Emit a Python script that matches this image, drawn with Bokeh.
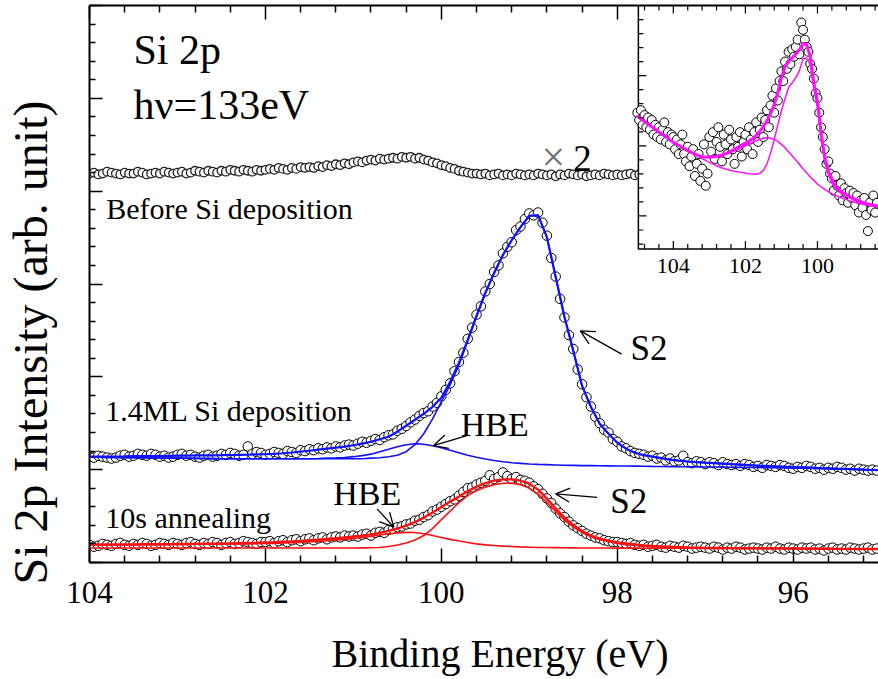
import numpy as np
from bokeh.plotting import figure
from bokeh.layouts import row, column
from bokeh.models import Range1d, LinearAxis, FixedTicker, Arrow, OpenHead, Label
from bokeh.core.properties import value
from bokeh.embed import file_html
from bokeh.resources import INLINE

FONT = "Liberation Serif"

# ---------------------------------------------------------------- data
# main panel: binding energy (eV) grids start at 104 and go down
FIT_STEP = 0.1      # fitted curves
DATA_STEP = 0.05    # measured points

before_data = [
    4.19, 4.20, 4.18, 4.19, 4.21, 4.20, 4.19, 4.18, 4.20, 4.19, 4.19, 4.21, 4.20, 4.18, 4.19, 4.20, 4.19, 4.21, 4.20, 4.19,
    4.20, 4.21, 4.19, 4.20, 4.22, 4.21, 4.20, 4.22, 4.21, 4.20, 4.22, 4.21, 4.23, 4.22, 4.21, 4.23, 4.22, 4.21, 4.23, 4.22,
    4.23, 4.24, 4.23, 4.25, 4.24, 4.23, 4.25, 4.24, 4.26, 4.25, 4.26, 4.25, 4.27, 4.26, 4.28, 4.27, 4.29, 4.28, 4.30, 4.29,
    4.31, 4.32, 4.31, 4.33, 4.34, 4.33, 4.35, 4.34, 4.35, 4.36, 4.35, 4.37, 4.36, 4.37, 4.35, 4.36, 4.34, 4.33, 4.31, 4.30,
    4.28, 4.27, 4.25, 4.24, 4.22, 4.21, 4.20, 4.19, 4.19, 4.18, 4.19, 4.17, 4.18, 4.19, 4.17, 4.18, 4.17, 4.19, 4.18, 4.17,
    4.18, 4.17, 4.19, 4.18, 4.17, 4.18, 4.16, 4.18, 4.17, 4.19, 4.18, 4.17, 4.18, 4.16, 4.17, 4.18, 4.17, 4.19, 4.18, 4.17,
    4.18, 4.17, 4.18, 4.19, 4.17, 4.18, 4.17, 4.18,
]

dep_data = [
    1.14, 1.13, 1.15, 1.14, 1.13, 1.12, 1.13, 1.15, 1.16, 1.14, 1.15, 1.17, 1.16, 1.15, 1.17, 1.16, 1.14, 1.15, 1.13, 1.14,
    1.16, 1.17, 1.15, 1.16, 1.14, 1.13, 1.15, 1.16, 1.14, 1.15, 1.17, 1.16, 1.18, 1.17, 1.15, 1.16, 1.25, 1.17, 1.19, 1.18,
    1.16, 1.17, 1.19, 1.18, 1.17, 1.20, 1.19, 1.18, 1.21, 1.20, 1.22, 1.21, 1.23, 1.22, 1.24, 1.23, 1.25, 1.24, 1.26, 1.27,
    1.26, 1.28, 1.30, 1.29, 1.31, 1.33, 1.32, 1.35, 1.37, 1.38, 1.42, 1.44, 1.47, 1.51, 1.54, 1.58, 1.61, 1.63, 1.68, 1.72,
    1.79, 1.86, 1.93, 2.06, 2.16, 2.26, 2.41, 2.53, 2.67, 2.76, 2.92, 3.00, 3.13, 3.20, 3.33, 3.40, 3.45, 3.58, 3.62, 3.70,
    3.76, 3.74, 3.77, 3.66, 3.52, 3.28, 3.08, 2.84, 2.64, 2.45, 2.30, 2.08, 1.92, 1.78, 1.68, 1.57, 1.50, 1.43, 1.40, 1.33,
    1.30, 1.25, 1.23, 1.20, 1.18, 1.17, 1.16, 1.14, 1.15, 1.12, 1.13, 1.10, 1.12, 1.09, 1.10, 1.15, 1.08, 1.07, 1.09, 1.08,
    1.06, 1.08, 1.07, 1.05, 1.08, 1.06, 1.05, 1.06, 1.04, 1.06, 1.05, 1.03, 1.04, 1.02, 1.05, 1.04, 1.03, 1.05, 1.04, 1.02,
    1.01, 1.03, 1.02, 1.04, 1.03, 1.01, 1.02, 1.00, 1.02, 1.01, 1.03, 1.02, 1.00, 1.01, 0.99, 1.01, 1.00, 0.99, 1.00, 0.99,
]

dep_fit_total = [
    1.140, 1.140, 1.140, 1.142, 1.143, 1.145, 1.146, 1.147, 1.148, 1.149,
    1.151, 1.152, 1.153, 1.154, 1.155, 1.156, 1.158, 1.160, 1.162, 1.165,
    1.167, 1.171, 1.177, 1.185, 1.194, 1.204, 1.215, 1.226, 1.237, 1.249,
    1.263, 1.280, 1.301, 1.328, 1.355, 1.409, 1.473, 1.538, 1.602, 1.677,
    1.774, 1.946, 2.151, 2.398, 2.656, 2.903, 3.118, 3.312, 3.473, 3.613,
    3.735, 3.740, 3.505, 3.075, 2.645, 2.280, 1.903, 1.677, 1.495, 1.387,
    1.290, 1.226, 1.183, 1.156, 1.140, 1.124, 1.108, 1.097, 1.088, 1.081,
    1.075, 1.070, 1.065, 1.059, 1.054, 1.048, 1.043, 1.040, 1.035, 1.032,
    1.028, 1.025, 1.022, 1.018, 1.015, 1.011, 1.008, 1.004, 1.000, 0.997, 0.994,
]

dep_fit_s2 = [
    1.134, 1.133, 1.132, 1.131, 1.130, 1.129, 1.128, 1.127, 1.126, 1.125,
    1.124, 1.123, 1.122, 1.120, 1.119, 1.118, 1.118, 1.118, 1.118, 1.118,
    1.118, 1.118, 1.118, 1.118, 1.118, 1.118, 1.118, 1.118, 1.118, 1.118,
    1.118, 1.118, 1.124, 1.129, 1.140, 1.156, 1.194, 1.269, 1.387, 1.548,
    1.731, 1.914, 2.129, 2.387, 2.651, 2.903, 3.118, 3.312, 3.473, 3.613,
    3.735, 3.740, 3.505, 3.075, 2.645, 2.280, 1.903, 1.677, 1.495, 1.387,
    1.290, 1.226, 1.183, 1.156, 1.140, 1.124, 1.108, 1.097, 1.088, 1.081,
    1.075, 1.070, 1.065, 1.059, 1.054, 1.048, 1.043, 1.040, 1.035, 1.032,
    1.028, 1.025, 1.022, 1.018, 1.015, 1.011, 1.008, 1.004, 1.000, 0.997, 0.994,
]

dep_fit_hbe = [
    1.134, 1.133, 1.132, 1.131, 1.130, 1.129, 1.128, 1.127, 1.126, 1.125,
    1.124, 1.123, 1.122, 1.120, 1.119, 1.118, 1.118, 1.118, 1.118, 1.118,
    1.118, 1.118, 1.118, 1.118, 1.118, 1.118, 1.120, 1.124, 1.127, 1.131,
    1.140, 1.151, 1.167, 1.194, 1.220, 1.247, 1.269, 1.280, 1.274, 1.258,
    1.237, 1.210, 1.183, 1.156, 1.134, 1.115, 1.099, 1.086, 1.075, 1.068,
    1.061, 1.057, 1.054, 1.051, 1.048, 1.046, 1.044, 1.043, 1.042, 1.041,
    1.040, 1.039, 1.038, 1.037, 1.035, 1.034, 1.033, 1.032, 1.031, 1.030,
    1.029, 1.028, 1.027, 1.026, 1.025, 1.024, 1.023, 1.022, 1.020, 1.019,
    1.017, 1.015, 1.013, 1.011, 1.009, 1.006, 1.004, 1.002, 1.000, 0.997, 0.994,
]

ann_data = [
    0.19, 0.17, 0.18, 0.20, 0.19, 0.18, 0.20, 0.21, 0.19, 0.18, 0.20, 0.19, 0.21, 0.20, 0.18, 0.19, 0.21, 0.20, 0.19, 0.21,
    0.20, 0.19, 0.21, 0.22, 0.20, 0.19, 0.21, 0.20, 0.22, 0.21, 0.19, 0.21, 0.22, 0.20, 0.21, 0.23, 0.22, 0.21, 0.20, 0.22,
    0.22, 0.23, 0.21, 0.23, 0.24, 0.22, 0.24, 0.25, 0.23, 0.25, 0.26, 0.24, 0.26, 0.27, 0.25, 0.27, 0.28, 0.27, 0.29, 0.28,
    0.29, 0.28, 0.30, 0.31, 0.29, 0.32, 0.33, 0.32, 0.35, 0.36, 0.38, 0.39, 0.41, 0.42, 0.45, 0.46, 0.49, 0.51, 0.55, 0.57,
    0.60, 0.63, 0.66, 0.68, 0.72, 0.76, 0.80, 0.81, 0.84, 0.86, 0.88, 0.94, 0.90, 0.92, 0.97, 0.93, 0.90, 0.92, 0.89, 0.88,
    0.86, 0.82, 0.79, 0.74, 0.69, 0.64, 0.58, 0.53, 0.49, 0.44, 0.40, 0.37, 0.34, 0.31, 0.29, 0.27, 0.26, 0.24, 0.23, 0.22,
    0.22, 0.21, 0.20, 0.21, 0.19, 0.18, 0.19, 0.17, 0.18, 0.19, 0.17, 0.16, 0.18, 0.17, 0.16, 0.18, 0.17, 0.15, 0.16, 0.17,
    0.16, 0.15, 0.17, 0.16, 0.14, 0.16, 0.15, 0.17, 0.16, 0.14, 0.15, 0.16, 0.15, 0.14, 0.16, 0.15, 0.17, 0.15, 0.14, 0.16,
    0.15, 0.14, 0.16, 0.15, 0.16, 0.14, 0.15, 0.13, 0.15, 0.16, 0.14, 0.15, 0.14, 0.16, 0.15, 0.14, 0.15, 0.16, 0.14, 0.15,
]

ann_fit_total = [
    0.194, 0.194, 0.194, 0.194, 0.194, 0.195, 0.196, 0.196, 0.197, 0.198,
    0.199, 0.200, 0.201, 0.202, 0.203, 0.204, 0.205, 0.208, 0.210, 0.212,
    0.215, 0.218, 0.223, 0.227, 0.232, 0.239, 0.245, 0.253, 0.261, 0.270,
    0.280, 0.290, 0.303, 0.319, 0.340, 0.366, 0.398, 0.435, 0.484, 0.538,
    0.597, 0.656, 0.710, 0.769, 0.817, 0.855, 0.882, 0.895, 0.895, 0.882,
    0.849, 0.785, 0.688, 0.581, 0.484, 0.403, 0.339, 0.290, 0.258, 0.234,
    0.217, 0.204, 0.194, 0.185, 0.178, 0.173, 0.169, 0.166, 0.162, 0.160,
    0.158, 0.157, 0.156, 0.155, 0.154, 0.153, 0.153, 0.152, 0.152, 0.151,
    0.151, 0.149, 0.149, 0.148, 0.148, 0.147, 0.147, 0.146, 0.146, 0.145, 0.145,
]

ann_fit_s2 = [
    0.156, 0.156, 0.156, 0.156, 0.156, 0.156, 0.156, 0.156, 0.156, 0.156,
    0.156, 0.156, 0.156, 0.156, 0.156, 0.156, 0.156, 0.156, 0.156, 0.156,
    0.156, 0.156, 0.156, 0.156, 0.156, 0.156, 0.156, 0.156, 0.156, 0.156,
    0.157, 0.158, 0.159, 0.161, 0.172, 0.188, 0.210, 0.242, 0.290, 0.366,
    0.462, 0.554, 0.645, 0.720, 0.774, 0.812, 0.839, 0.853, 0.855, 0.839,
    0.801, 0.737, 0.645, 0.548, 0.457, 0.382, 0.323, 0.277, 0.245, 0.223,
    0.204, 0.191, 0.183, 0.176, 0.171, 0.167, 0.163, 0.161, 0.159, 0.158,
    0.157, 0.156, 0.155, 0.155, 0.154, 0.153, 0.153, 0.152, 0.152, 0.151,
    0.151, 0.149, 0.149, 0.148, 0.148, 0.147, 0.147, 0.146, 0.146, 0.145, 0.145,
]

ann_fit_hbe = [
    0.188, 0.189, 0.189, 0.190, 0.190, 0.190, 0.191, 0.191, 0.192, 0.192,
    0.194, 0.195, 0.196, 0.197, 0.197, 0.198, 0.199, 0.200, 0.201, 0.202,
    0.204, 0.206, 0.210, 0.213, 0.217, 0.223, 0.228, 0.234, 0.242, 0.249,
    0.258, 0.269, 0.282, 0.296, 0.309, 0.319, 0.325, 0.323, 0.309, 0.290,
    0.269, 0.249, 0.231, 0.215, 0.201, 0.190, 0.183, 0.176, 0.172, 0.168,
    0.165, 0.162, 0.161, 0.160, 0.159, 0.158, 0.157, 0.157, 0.156, 0.156,
    0.155, 0.155, 0.155, 0.154, 0.154, 0.154, 0.153, 0.153, 0.153, 0.153,
    0.152, 0.152, 0.152, 0.152, 0.152, 0.151, 0.151, 0.151, 0.151, 0.151,
    0.151, 0.150, 0.150, 0.149, 0.149, 0.148, 0.148, 0.147, 0.146, 0.146, 0.145,
]

# inset (before deposition, magnified): energy grids start at 105 eV
INSET_FIT_STEP = 0.1
INSET_DATA_STEP = 0.05
inset_data = [
    5.6, 5.3, 5.7, 5.1, 5.5, 5.0, 5.4, 4.9, 5.3, 4.7, 5.1, 4.6, 5.0, 4.5, 4.9, 5.2, 4.4, 4.8, 4.3, 4.7,
    4.6, 4.1, 4.5, 3.9, 4.3, 4.7, 3.9, 3.6, 4.2, 3.4, 3.8, 4.1, 3.0, 3.5, 3.9, 2.8, 3.3, 4.3, 2.6, 3.1,
    4.6, 4.0, 4.8, 3.7, 4.4, 5.0, 4.2, 3.6, 4.7, 4.3, 3.9, 4.9, 4.5, 4.1, 3.5, 4.6, 4.2, 4.8, 3.8, 4.4,
    4.7, 4.1, 5.0, 4.5, 3.9, 4.8, 5.2, 4.4, 4.9, 5.4, 4.6, 5.3, 5.7, 5.0, 5.9, 6.3, 5.6, 6.6, 6.1, 6.9,
    7.3, 6.9, 7.7, 7.4, 8.1, 7.6, 8.2, 7.9, 8.3, 8.6, 8.0, 9.3, 9.0, 8.6, 8.3, 8.1, 7.6, 7.4, 7.0, 6.4,
    6.2, 5.6, 5.0, 4.6, 4.1, 3.5, 3.6, 3.1, 2.9, 2.4, 3.0, 2.6, 2.2, 2.7, 2.0, 2.5, 2.3, 1.9, 2.4, 2.1,
    2.3, 1.8, 2.2, 1.5, 2.0, 1.7, 2.1, 1.4, 0.74, 1.9, 1.6, 2.2, 1.5, 1.9,
]
inset_fit_total = [
    5.47, 5.35, 5.23, 5.12, 5.02, 4.92, 4.81, 4.71, 4.61, 4.49,
    4.38, 4.30, 4.22, 4.14, 4.05, 3.97, 3.90, 3.84, 3.79, 3.78,
    3.77, 3.79, 3.81, 3.84, 3.89, 3.95, 4.02, 4.10, 4.19, 4.27,
    4.35, 4.43, 4.53, 4.67, 4.84, 5.02, 5.27, 5.56, 5.93, 6.42,
    7.04, 7.49, 7.70, 7.86, 8.00, 8.19, 8.44, 8.40, 7.90, 6.83,
    6.09, 4.81, 3.79, 3.21, 2.88, 2.59, 2.43, 2.33, 2.22, 2.14,
    2.08, 2.02, 1.95, 1.89, 1.85, 1.82, 1.79, 1.76,
]
inset_fit_broad = [
    5.47, 5.35, 5.23, 5.12, 5.02, 4.92, 4.81, 4.71, 4.61, 4.49,
    4.38, 4.30, 4.22, 4.14, 4.05, 3.97, 3.90, 3.84, 3.79, 3.78,
    3.77, 3.78, 3.79, 3.82, 3.86, 3.91, 3.97, 4.03, 4.10, 4.17,
    4.24, 4.31, 4.38, 4.45, 4.51, 4.56, 4.57, 4.55, 4.51, 4.42,
    4.30, 4.16, 3.99, 3.83, 3.66, 3.48, 3.29, 3.13, 2.96, 2.82,
    2.67, 2.56, 2.45, 2.36, 2.28, 2.21, 2.14, 2.08, 2.03, 1.98,
    1.93, 1.89, 1.86, 1.83, 1.80, 1.77, 1.74, 1.72,
]
inset_fit_sharp = [
    5.47, 5.35, 5.23, 5.12, 5.02, 4.92, 4.81, 4.71, 4.61, 4.49,
    4.38, 4.30, 4.22, 4.14, 4.05, 3.97, 3.90, 3.81, 3.72, 3.64,
    3.56, 3.49, 3.42, 3.36, 3.31, 3.27, 3.23, 3.20, 3.17, 3.14,
    3.12, 3.09, 3.08, 3.07, 3.11, 3.23, 3.50, 3.95, 4.49, 5.10,
    5.68, 6.17, 6.63, 6.83, 7.04, 7.33, 7.82, 7.84, 7.57, 6.58,
    5.80, 4.57, 3.62, 3.05, 2.72, 2.49, 2.35, 2.24, 2.16, 2.09,
    2.02, 1.97, 1.91, 1.86, 1.83, 1.79, 1.77, 1.74,
]

# axis ticks
x_major = [104, 102, 100, 98, 96]
x_minor = [103.6, 103.2, 102.8, 102.4, 101.6, 101.2, 100.8, 100.4, 99.6, 99.2, 98.8, 98.4,
           97.6, 97.2, 96.8, 96.4, 95.6, 95.2]
y_major = [0, 1, 2, 3, 4, 5, 6]
y_minor = [round(0.2 * k, 1) for k in range(31) if k % 5]
inset_x_major = [104, 102, 100]
inset_x_minor = [104.8, 104.4, 103.6, 103.2, 102.8, 102.4, 101.6, 101.2, 100.8, 100.4, 99.6, 99.2, 98.8, 98.4]
inset_x_labels = ["104", "102", "100"]

X_TITLE = "Binding Energy (eV)"
Y_TITLE = "Si 2p Intensity (arb. unit)"


def grid(start, step, n):
    return start - step * np.arange(n)


# ---------------------------------------------------------------- layout constants
W, H = 878, 679
TITLE_W = 60           # strip holding the y title (full height)
TITLE_H = 60           # strip holding the x title (under the plot)
MAIN_W, MAIN_H = W - TITLE_W, H - TITLE_H
X0, X1 = 104.0, 95.03          # main x range (reversed)
Y0, Y1 = 0.0, 6.0
FRAME_W, FRAME_H = 789, 557
FRAME_LEFT = W - FRAME_W       # 89 px from the left of the picture
PX_X = FRAME_W / (X0 - X1)     # px per eV (main)
PX_Y = FRAME_H / (Y1 - Y0)     # px per unit (main)
# inset placement (main-data coords) and its own data range
INSET_MAIN_LEFT, INSET_MAIN_BOTTOM = 97.76, 3.376
INSET_X_LEFT, INSET_X_RIGHT = 104.97, 98.306
INSET_Y_BOTTOM, INSET_Y_TOP = 0.0, 10.0

sx = (INSET_X_RIGHT - INSET_X_LEFT) / (X1 - INSET_MAIN_LEFT)
ix_start = INSET_X_LEFT + (X0 - INSET_MAIN_LEFT) * sx
sy = (INSET_Y_TOP - INSET_Y_BOTTOM) / (Y1 - INSET_MAIN_BOTTOM)
iy_start = INSET_Y_BOTTOM + (Y0 - INSET_MAIN_BOTTOM) * sy
px_per_ix = FRAME_W / (ix_start - INSET_X_RIGHT)
px_per_iy = FRAME_H / (INSET_Y_TOP - iy_start)

p = figure(width=MAIN_W, height=MAIN_H, output_backend="svg", toolbar_location=None,
           x_range=Range1d(X0, X1), y_range=Range1d(Y0, Y1),
           min_border_left=MAIN_W - FRAME_W, min_border_right=0, min_border_top=5,
           min_border_bottom=MAIN_H - FRAME_H - 5)
p.extra_x_ranges = {"ix": Range1d(ix_start, INSET_X_RIGHT)}
p.extra_y_ranges = {"iy": Range1d(iy_start, INSET_Y_TOP)}
p.outline_line_color = None
p.grid.visible = False
p.background_fill_color = "white"
p.border_fill_color = "white"

# bottom axis
xb = p.below[0]
xb.ticker = FixedTicker(ticks=x_major, minor_ticks=x_minor)
xb.major_label_text_font = FONT
xb.major_label_text_font_size = "31px"
xb.major_label_text_color = "black"
xb.major_label_standoff = 19
xb.major_tick_in, xb.major_tick_out = 14, 0
xb.minor_tick_in, xb.minor_tick_out = 7, 0
xb.axis_line_width = 2
xb.major_tick_line_width = 1.5
xb.minor_tick_line_width = 1.5

# left axis (ticks only, no numbers)
yl = p.left[0]
yl.ticker = FixedTicker(ticks=y_major, minor_ticks=y_minor)
yl.major_label_text_font_size = "1px"
yl.major_label_text_color = None
yl.major_label_standoff = 0
yl.major_tick_in, yl.major_tick_out = 13, 0
yl.minor_tick_in, yl.minor_tick_out = 6, 0
yl.axis_line_width = 2
yl.major_tick_line_width = 1.5
yl.minor_tick_line_width = 1.5

# top axis (ticks only left of the inset)
top_major = [t for t in x_major if t > INSET_MAIN_LEFT]
top_minor = [t for t in x_minor if t > INSET_MAIN_LEFT]
xt = LinearAxis(ticker=FixedTicker(ticks=top_major, minor_ticks=top_minor),
                major_label_text_font_size="1px", major_label_text_color=None, major_label_standoff=0,
                major_tick_in=14, major_tick_out=0, minor_tick_in=7, minor_tick_out=0,
                axis_line_width=2, major_tick_line_width=1.5, minor_tick_line_width=1.5)
p.add_layout(xt, "above")

# ---------------------------------------------------------------- main spectra
CIRCLE = dict(marker="circle", fill_color="white", line_color="black", line_width=1)
p.scatter(grid(104.0, DATA_STEP, len(before_data)), before_data, size=8.5,
          marker="circle", fill_color="white", line_color="#202020", line_width=1.3)
p.scatter(grid(104.0, DATA_STEP, len(dep_data)), dep_data, size=9.5, **CIRCLE)
p.scatter(grid(104.0, DATA_STEP, len(ann_data)), ann_data, size=9.5, **CIRCLE)

BLUE, RED, MAGENTA = "#1010ff", "#ff1010", "#ff10ff"
fx = grid(104.0, FIT_STEP, len(dep_fit_total))
p.line(fx, dep_fit_hbe, line_color=BLUE, line_width=1.6)
p.line(fx, dep_fit_s2, line_color=BLUE, line_width=1.6)
p.line(fx, dep_fit_total, line_color=BLUE, line_width=2.2)
p.line(fx, ann_fit_hbe, line_color=RED, line_width=1.6)
p.line(fx, ann_fit_s2, line_color=RED, line_width=1.6)
p.line(fx, ann_fit_total, line_color=RED, line_width=2.4)

# ---------------------------------------------------------------- inset
IR = dict(x_range_name="ix", y_range_name="iy")
p.quad(left=[INSET_X_LEFT], right=[INSET_X_RIGHT - 1.0], bottom=[INSET_Y_BOTTOM], top=[INSET_Y_TOP + 1.0],
       fill_color="white", line_color="black", line_width=1.5, **IR)
p.scatter(grid(105.0, INSET_DATA_STEP, len(inset_data)), inset_data, size=9, **CIRCLE, **IR)
ifx = grid(105.0, INSET_FIT_STEP, len(inset_fit_total))
p.line(ifx, inset_fit_broad, line_color=MAGENTA, line_width=1.5, **IR)
p.line(ifx, inset_fit_sharp, line_color=MAGENTA, line_width=1.5, **IR)
p.line(ifx, inset_fit_total, line_color=MAGENTA, line_width=3, **IR)

# inset ticks (inward) on bottom, top and left
maj_v, min_v = 8 / px_per_iy, 5 / px_per_iy
maj_h, min_h = 8 / px_per_ix, 5 / px_per_ix
for ticks, ln in ((inset_x_major, maj_v), (inset_x_minor, min_v)):
    n = len(ticks)
    p.segment(ticks, [INSET_Y_BOTTOM] * n, ticks, [INSET_Y_BOTTOM + ln] * n, line_color="black", line_width=1.2, **IR)
    p.segment(ticks, [INSET_Y_TOP] * n, ticks, [INSET_Y_TOP - ln] * n, line_color="black", line_width=1.2, **IR)
iy_major = [1.36, 4.24, 7.12]
iy_minor = [v for v in np.arange(0.208, 10, 0.576) if min(abs(v - m) for m in iy_major) > 0.1]
for ticks, ln in ((iy_major, maj_h), (iy_minor, min_h)):
    n = len(ticks)
    p.segment([INSET_X_LEFT] * n, ticks, [INSET_X_LEFT - ln] * n, ticks, line_color="black", line_width=1.2, **IR)
p.text(inset_x_major, [INSET_Y_BOTTOM - 10 / px_per_iy] * 3, text=inset_x_labels,
       text_font=value(FONT), text_font_size=value("22px"), text_align="center", text_baseline="top",
       text_color="black", **IR)

# ---------------------------------------------------------------- annotations
def lab(x, y, text, size, color="black"):
    # Bokeh puts an "alphabetic" label with its descent on y; lift ~0.27 em onto the baseline
    lift = 0.27 * size / PX_Y
    p.add_layout(Label(x=x, y=y + lift, text=text, text_font=FONT, text_font_size=f"{size}px",
                       text_color=color, text_align="left", text_baseline="alphabetic"))

lab(103.5, 5.40, "Si 2p", 42)
lab(103.5, 4.806, "hν=133eV", 42)
lab(98.86, 4.247, "×", 42, "#707070")
lab(98.50, 4.247, "2", 37)
lab(103.81, 3.731, "Before Si deposition", 30)
lab(103.82, 1.548, "1.4ML Si deposition", 30)
lab(103.82, 0.398, "10s annealing", 30)
lab(99.78, 1.387, "HBE", 34)
lab(97.85, 2.204, "S2", 35)
lab(101.23, 0.645, "HBE", 34)
lab(98.08, 0.559, "S2", 35)

def arrow(x0, y0, x1, y1):
    p.add_layout(Arrow(end=OpenHead(size=14, line_width=1.3, line_color="black"),
                       x_start=x0, y_start=y0, x_end=x1, y_end=y1,
                       line_width=1.3, line_color="black"))

arrow(99.71, 1.366, 100.09, 1.258)
arrow(97.95, 2.244, 98.42, 2.495)
arrow(100.73, 0.577, 100.54, 0.380)
arrow(98.23, 0.702, 98.70, 0.739)

# ---------------------------------------------------------------- axis titles in their own strips
def strip(w, h, xr):
    f = figure(width=w, height=h, output_backend="svg", toolbar_location=None,
               x_range=xr, y_range=Range1d(0, h),
               x_axis_type=None, y_axis_type=None, min_border=0)
    f.outline_line_color = None
    f.grid.visible = False
    return f

Y_TITLE_CENTER = 342          # px from the top of the picture
ystrip = strip(TITLE_W, H, Range1d(0, TITLE_W))
ystrip.text([30], [H - Y_TITLE_CENTER], text=[Y_TITLE], angle=np.pi / 2,
            text_font=value(FONT), text_font_size=value("48px"),
            text_align="center", text_baseline="middle", text_color="black")

# the x-title strip's frame lines up with the main frame, so its x range is in picture pixels
xstrip = strip(MAIN_W, TITLE_H, Range1d(FRAME_LEFT, W))
xstrip.text([499.5], [TITLE_H - (664 - MAIN_H) + 0.27 * 40], text=[X_TITLE],
            text_font=value(FONT), text_font_size=value("40px"),
            text_align="center", text_baseline="alphabetic", text_color="black")

layout = row(ystrip, column(p, xstrip, spacing=0), spacing=0)
open("out.html", "w").write(file_html(layout, INLINE))
